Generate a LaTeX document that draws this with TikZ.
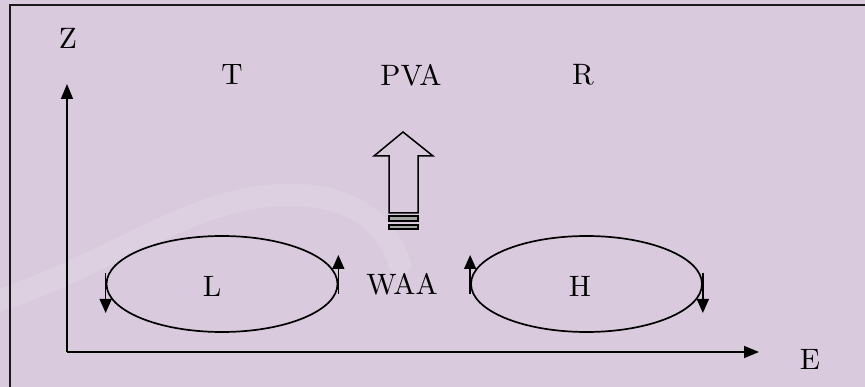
\documentclass[tikz,border=0pt]{standalone}
\usepackage{fontspec}
\setmainfont{lmroman10-regular.otf}
\usetikzlibrary{arrows.meta,shapes.geometric}
\definecolor{bgpurple}{HTML}{D9CBDD}
\definecolor{framegray}{HTML}{1A1A1A}
\begin{document}
\begin{tikzpicture}[x=1pt,y=-1pt,
  lbl/.style={inner sep=0pt,font=\fontsize{29.5}{34}\selectfont},
  axis/.style={line width=1.6pt,-{Triangle[length=15pt,width=12pt]}},
  cell/.style={draw,line width=1.7pt,ellipse,minimum width=231pt,minimum height=96pt,inner sep=0pt},
  spin/.style={line width=1.6pt,-{Triangle[length=14pt,width=12pt]}}]
\useasboundingbox (0,0) rectangle (865,387);
\fill[bgpurple] (0,0) rectangle (865,387);
% faint background swooshes
\draw[white,opacity=0.12,line width=22pt,line cap=round] (0,300) .. controls (120,260) and (200,190) .. (300,195) .. controls (360,198) and (390,230) .. (400,265);
% frame
\draw[framegray,line width=2pt] (10,400) -- (10,5) -- (880,5);
% axes
\coordinate (o) at (67,352);
\coordinate (ztip) at (67,84);
\coordinate (etip) at (759,352);
\draw[axis] (o) -- (ztip);
\draw[axis] (o) -- (etip);
\node[lbl] (z) at (68,38) {Z};
\node[lbl] (e) at (810,359) {E};
% top labels
\node[lbl] (t) at (232,75) {T};
\node[lbl] (pva) at (411,75) {PVA};
\node[lbl] (r) at (583,75) {R};
% hollow arrow
\draw[line width=1.5pt,line join=miter] (389,213) -- (389,156) -- (374,156) -- (403,132) -- (433,156) -- (418,156) -- (418,213) -- cycle;
\draw[line width=1.2pt,fill=gray!70] (389,216) rectangle (418,221);
\draw[line width=1.2pt,fill=gray!70] (389,225) rectangle (418,229);
% cells
\node[cell] (lcell) at (222,284) {};
\node[cell] (hcell) at (586.5,284) {};
\node[lbl] (l) at (212,286) {L};
\node[lbl] (h) at (580,286) {H};
\node[lbl] (waa) at (402,284) {WAA};
% rotation arrows (yshift is in page direction: positive = up)
\coordinate (l1s) at ([yshift=11pt]lcell.west);
\coordinate (l1e) at ([yshift=-29pt]lcell.west);
\coordinate (l2s) at ([yshift=-10pt]lcell.east);
\coordinate (l2e) at ([yshift=29pt]lcell.east);
\coordinate (h1s) at ([yshift=-10pt]hcell.west);
\coordinate (h1e) at ([yshift=29pt]hcell.west);
\coordinate (h2s) at ([yshift=11pt]hcell.east);
\coordinate (h2e) at ([yshift=-29pt]hcell.east);
\draw[spin] (l1s) -- (l1e);
\draw[spin] (l2s) -- (l2e);
\draw[spin] (h1s) -- (h1e);
\draw[spin] (h2s) -- (h2e);
\end{tikzpicture}
\end{document}
